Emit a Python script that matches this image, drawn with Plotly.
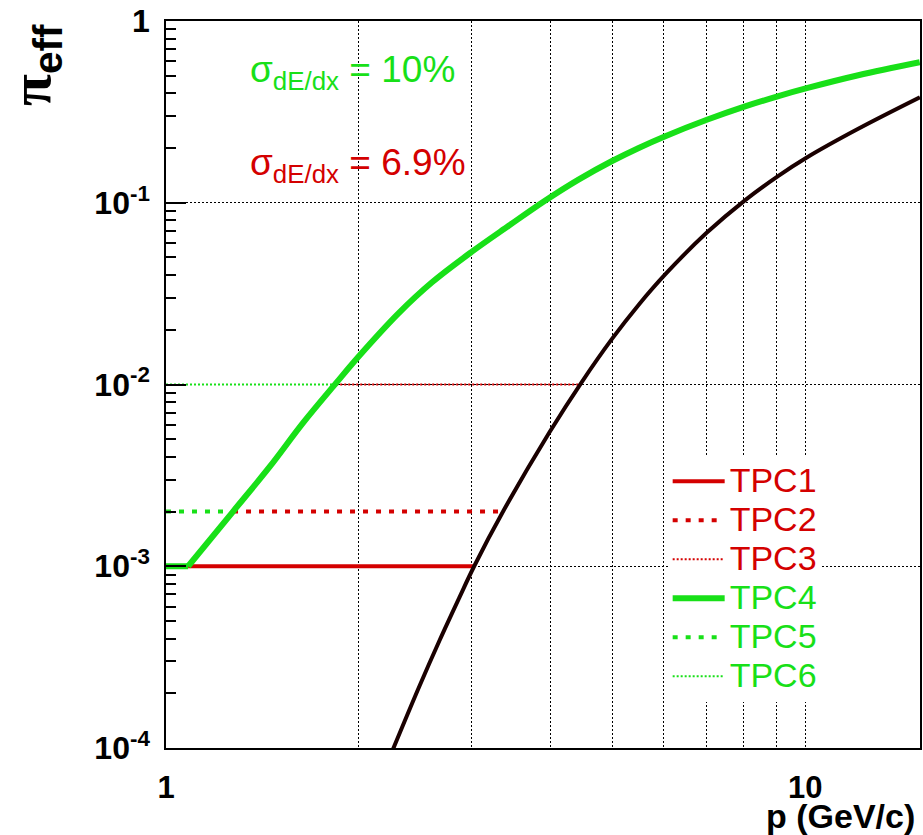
import plotly.graph_objects as go

# ---------------- data ----------------
# sigma_dE/dx = 10 %  (green curve, TPC4), starts on the 1e-3 plateau
green_flat_x = [1.0, 1.083]
green_flat_y = [1.0e-3, 1.0e-3]
green_x = [1.083, 1.273, 1.453, 1.637, 1.846, 2.003, 2.312, 2.607, 3.01, 3.44,
           3.915, 4.425, 4.986, 5.489, 6.04, 7.015, 8.05, 9.08, 10.05, 12.1, 15.1]
green_y = [1.0e-3, 2.0e-3, 3.53e-3, 6.13e-3, 1.02e-2, 1.43e-2, 2.47e-2, 3.65e-2,
           5.38e-2, 7.49e-2, 0.1026, 0.1345, 0.1697, 0.2003, 0.2324, 0.286, 0.339,
           0.3864, 0.427, 0.503, 0.593]

# sigma_dE/dx = 6.9 % (dark curve)
dark_x = [2.261, 2.49, 2.676, 2.875, 3.034, 3.38, 3.973, 4.473, 4.981, 5.489,
          6.047, 7.009, 8.063, 9.077, 10.04, 12.1, 15.11]
dark_y = [0.97e-4, 2.18e-4, 3.88e-4, 6.70e-4, 1.0e-3, 2.05e-3, 5.41e-3, 1.035e-2,
          1.776e-2, 2.75e-2, 4.06e-2, 6.83e-2, 0.1038, 0.1406, 0.1768, 0.255, 0.38]

# contamination thresholds and where the curves cross them
levels = [1e-3, 2e-3, 1e-2]
green_cross = [1.083, 1.273, 1.846]
dark_cross = [3.034, 3.36, 4.45]
p_start = 1.0

red_names = ["TPC1", "TPC2", "TPC3"]
green_names = ["TPC4", "TPC5", "TPC6"]

y_tickvals = [1e-4, 1e-3, 1e-2, 1e-1, 1]
y_ticktext = ["10<sup>-4</sup>", "10<sup>-3</sup>", "10<sup>-2</sup>", "10<sup>-1</sup>", "1"]
x_tickvals = [1, 10]
x_ticktext = ["1", "10"]
x_grid_minor = [2, 3, 4, 5, 6, 7, 8, 9]

# ---------------- styling ----------------
RED = "#d40000"
GREEN = "#18e018"
DARK = "#1a0000"
FONT = "Liberation Sans, Arial, sans-serif"

red_styles = [dict(width=4, dash="solid"), dict(width=4, dash="5px,8px"), dict(width=2, dash="2px,2px")]
green_styles = [dict(width=6, dash="solid"), dict(width=4, dash="5px,8px"), dict(width=2, dash="2px,2px")]


def lname(txt, col):
    return f"<span style='color:{col};font-size:34px'>{txt}</span>"


fig = go.Figure()

# red threshold segments (TPC1-3)
for i in range(3):
    fig.add_trace(go.Scatter(
        x=[green_cross[i], dark_cross[i]], y=[levels[i], levels[i]],
        mode="lines", line=dict(color=RED, **red_styles[i]),
        name=lname(red_names[i], RED), legendrank=i + 1, showlegend=True))

# green threshold segments TPC5, TPC6
for i in (1, 2):
    fig.add_trace(go.Scatter(
        x=[p_start, green_cross[i]], y=[levels[i], levels[i]],
        mode="lines", line=dict(color=GREEN, **green_styles[i]),
        name=lname(green_names[i], GREEN), legendrank=4 + i, showlegend=True))

# green curve (TPC4): plateau + smooth curve
fig.add_trace(go.Scatter(
    x=green_flat_x, y=green_flat_y, mode="lines",
    line=dict(color=GREEN, **green_styles[0]), showlegend=False))
fig.add_trace(go.Scatter(
    x=green_x, y=green_y, mode="lines",
    line=dict(color=GREEN, shape="spline", smoothing=1.0, **green_styles[0]),
    name=lname(green_names[0], GREEN), legendrank=4, showlegend=True))

# dark curve
fig.add_trace(go.Scatter(
    x=dark_x, y=dark_y, mode="lines",
    line=dict(color=DARK, width=4, shape="spline", smoothing=1.0),
    showlegend=False))

fig.update_layout(
    width=923, height=835,
    margin=dict(l=166, r=1, t=21, b=87),
    paper_bgcolor="white", plot_bgcolor="white",
    font=dict(family=FONT, color="black"),
    showlegend=True,
    legend=dict(
        x=(669 - 166) / 756, y=(748 - 457) / 726.5, xanchor="left", yanchor="top",
        bgcolor="white", borderwidth=0, font=dict(size=27.7, family=FONT),
        itemwidth=52, tracegroupgap=0, traceorder="normal",
    ),
)

fig.update_xaxes(
    type="log", range=[0, 1.1794],
    tickvals=x_tickvals, ticktext=x_ticktext,
    tickfont=dict(size=31, family=FONT, weight="bold"),
    ticks="", ticklabelstandoff=11,
    showline=True, linecolor="black", linewidth=1.5, mirror=True,
    showgrid=True, gridcolor="black", gridwidth=1, griddash="2px,2px",
    minor=dict(tickvals=x_grid_minor, showgrid=True, gridcolor="black",
               gridwidth=1, griddash="2px,2px", ticks=""),
    zeroline=False,
)

fig.update_yaxes(
    type="log", range=[-4, 0],
    tickvals=y_tickvals, ticktext=y_ticktext,
    tickfont=dict(size=32, family=FONT, weight="bold"),
    ticks="inside", ticklen=20, tickwidth=1.5, tickcolor="black", ticklabelstandoff=8,
    showline=True, linecolor="black", linewidth=1.5, mirror=True,
    showgrid=True, gridcolor="black", gridwidth=1, griddash="2px,2px",
    minor=dict(dtick="D1", ticks="inside", ticklen=10, tickwidth=1.5,
               tickcolor="black", showgrid=False),
    zeroline=False,
)

# sigma labels
fig.add_annotation(
    xref="paper", yref="paper", x=(248 - 166) / 756, y=(748 - 72) / 726.5,
    xanchor="left", yanchor="middle", showarrow=False,
    text="σ<sub>dE/dx</sub> = 10%", font=dict(size=37, color=GREEN, family=FONT))
fig.add_annotation(
    xref="paper", yref="paper", x=(248 - 166) / 756, y=(748 - 165) / 726.5,
    xanchor="left", yanchor="middle", showarrow=False,
    text="σ<sub>dE/dx</sub> = 6.9%", font=dict(size=37, color=RED, family=FONT))

# axis titles
fig.add_annotation(
    xref="paper", yref="paper", x=(34 - 166) / 756, y=(748 - 65) / 726.5,
    xanchor="center", yanchor="middle", showarrow=False, textangle=-90,
    text="<span style='font-family:Liberation Serif'>π</span><sub>eff</sub>",
    font=dict(size=58, family=FONT, weight="bold", color="black"))
fig.add_annotation(
    xref="paper", yref="paper", x=(919 - 166) / 756, y=(748 - 816) / 726.5,
    xanchor="right", yanchor="middle", showarrow=False,
    text="p (GeV/c)", font=dict(size=34, family=FONT, weight="bold", color="black"))

fig.write_html("out.html")
